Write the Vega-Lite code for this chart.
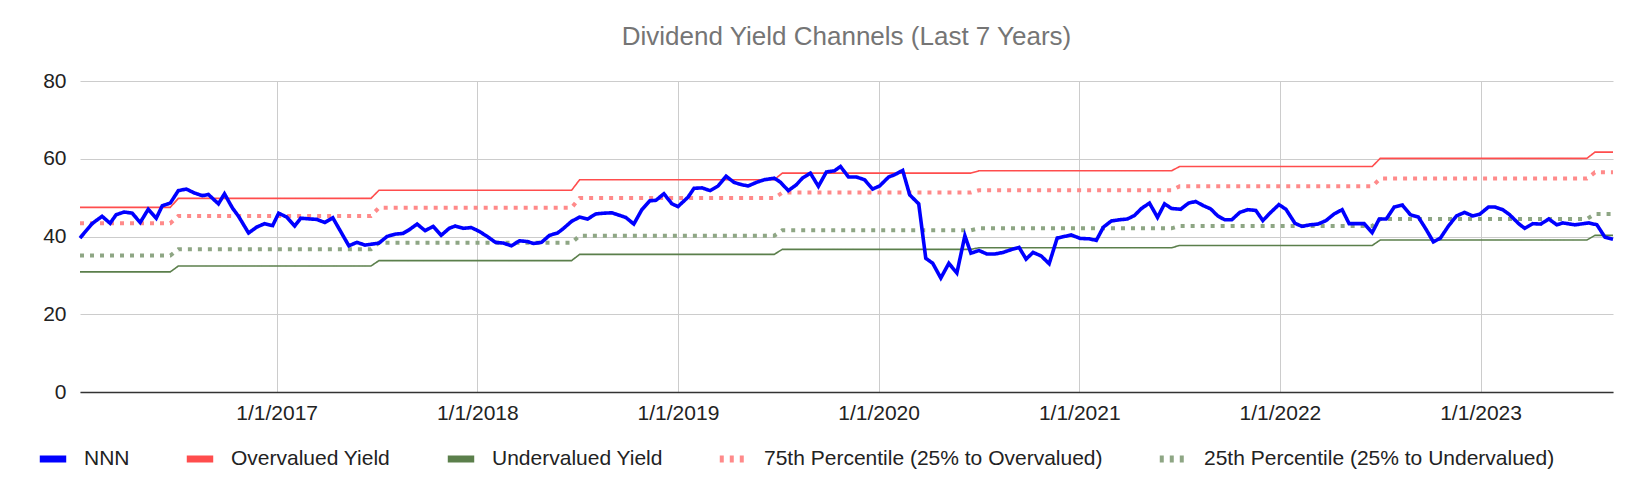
{
"$schema":"https://vega.github.io/schema/vega-lite/v6.json",
"width":1533,"height":311,"autosize":{"type":"none"},
"padding":{"left":80,"top":81,"right":23,"bottom":102},
"background":"white",
"config":{"view":{"stroke":null},"font":"Liberation Sans"},
"title":{"text":"Dividend Yield Channels (Last 7 Years)","fontSize":26,"fontWeight":"normal","color":"#757575","font":"Liberation Sans","offset":20,"anchor":"middle"},
"datasets":{
"steps":[
{"s":"Overvalued Yield","t":2016.02,"v":47.5},{"s":"Overvalued Yield","t":2016.47,"v":47.5},{"s":"Overvalued Yield","t":2016.51,"v":49.8},{"s":"Overvalued Yield","t":2017.47,"v":49.8},{"s":"Overvalued Yield","t":2017.51,"v":51.9},{"s":"Overvalued Yield","t":2018.47,"v":51.9},{"s":"Overvalued Yield","t":2018.51,"v":54.6},{"s":"Overvalued Yield","t":2019.48,"v":54.6},{"s":"Overvalued Yield","t":2019.52,"v":56.3},{"s":"Overvalued Yield","t":2020.46,"v":56.3},{"s":"Overvalued Yield","t":2020.50,"v":56.9},{"s":"Overvalued Yield","t":2021.46,"v":56.9},{"s":"Overvalued Yield","t":2021.50,"v":58.0},{"s":"Overvalued Yield","t":2022.46,"v":58.0},{"s":"Overvalued Yield","t":2022.50,"v":60.1},{"s":"Overvalued Yield","t":2023.53,"v":60.1},{"s":"Overvalued Yield","t":2023.57,"v":61.7},{"s":"Overvalued Yield","t":2023.66,"v":61.7},
{"s":"Undervalued Yield","t":2016.02,"v":30.9},{"s":"Undervalued Yield","t":2016.47,"v":30.9},{"s":"Undervalued Yield","t":2016.51,"v":32.4},{"s":"Undervalued Yield","t":2017.47,"v":32.4},{"s":"Undervalued Yield","t":2017.51,"v":33.8},{"s":"Undervalued Yield","t":2018.47,"v":33.8},{"s":"Undervalued Yield","t":2018.51,"v":35.4},{"s":"Undervalued Yield","t":2019.48,"v":35.4},{"s":"Undervalued Yield","t":2019.52,"v":36.7},{"s":"Undervalued Yield","t":2020.46,"v":36.7},{"s":"Undervalued Yield","t":2020.50,"v":37.1},{"s":"Undervalued Yield","t":2021.46,"v":37.1},{"s":"Undervalued Yield","t":2021.50,"v":37.7},{"s":"Undervalued Yield","t":2022.46,"v":37.7},{"s":"Undervalued Yield","t":2022.50,"v":39.1},{"s":"Undervalued Yield","t":2023.53,"v":39.1},{"s":"Undervalued Yield","t":2023.57,"v":40.3},{"s":"Undervalued Yield","t":2023.66,"v":40.3}
],
"dots":[
{"s":"75th Percentile (25% to Overvalued)","t":2016.02,"v":43.4},{"s":"75th Percentile (25% to Overvalued)","t":2016.47,"v":43.4},{"s":"75th Percentile (25% to Overvalued)","t":2016.51,"v":45.3},{"s":"75th Percentile (25% to Overvalued)","t":2017.47,"v":45.3},{"s":"75th Percentile (25% to Overvalued)","t":2017.51,"v":47.4},{"s":"75th Percentile (25% to Overvalued)","t":2018.47,"v":47.4},{"s":"75th Percentile (25% to Overvalued)","t":2018.51,"v":49.9},{"s":"75th Percentile (25% to Overvalued)","t":2019.48,"v":49.9},{"s":"75th Percentile (25% to Overvalued)","t":2019.52,"v":51.3},{"s":"75th Percentile (25% to Overvalued)","t":2020.46,"v":51.3},{"s":"75th Percentile (25% to Overvalued)","t":2020.50,"v":51.9},{"s":"75th Percentile (25% to Overvalued)","t":2021.46,"v":51.9},{"s":"75th Percentile (25% to Overvalued)","t":2021.50,"v":52.9},{"s":"75th Percentile (25% to Overvalued)","t":2022.46,"v":52.9},{"s":"75th Percentile (25% to Overvalued)","t":2022.50,"v":54.9},{"s":"75th Percentile (25% to Overvalued)","t":2023.53,"v":54.9},{"s":"75th Percentile (25% to Overvalued)","t":2023.57,"v":56.5},{"s":"75th Percentile (25% to Overvalued)","t":2023.66,"v":56.5},
{"s":"25th Percentile (25% to Undervalued)","t":2016.02,"v":35.1},{"s":"25th Percentile (25% to Undervalued)","t":2016.47,"v":35.1},{"s":"25th Percentile (25% to Undervalued)","t":2016.51,"v":36.7},{"s":"25th Percentile (25% to Undervalued)","t":2017.47,"v":36.7},{"s":"25th Percentile (25% to Undervalued)","t":2017.51,"v":38.4},{"s":"25th Percentile (25% to Undervalued)","t":2018.47,"v":38.4},{"s":"25th Percentile (25% to Undervalued)","t":2018.51,"v":40.2},{"s":"25th Percentile (25% to Undervalued)","t":2019.48,"v":40.2},{"s":"25th Percentile (25% to Undervalued)","t":2019.52,"v":41.6},{"s":"25th Percentile (25% to Undervalued)","t":2020.46,"v":41.6},{"s":"25th Percentile (25% to Undervalued)","t":2020.50,"v":42.1},{"s":"25th Percentile (25% to Undervalued)","t":2021.46,"v":42.1},{"s":"25th Percentile (25% to Undervalued)","t":2021.50,"v":42.7},{"s":"25th Percentile (25% to Undervalued)","t":2022.46,"v":42.7},{"s":"25th Percentile (25% to Undervalued)","t":2022.50,"v":44.5},{"s":"25th Percentile (25% to Undervalued)","t":2023.53,"v":44.5},{"s":"25th Percentile (25% to Undervalued)","t":2023.57,"v":45.8},{"s":"25th Percentile (25% to Undervalued)","t":2023.66,"v":45.8}
],
"nnn":[
{"s":"NNN","t":2016.02,"v":39.6},{"s":"NNN","t":2016.08,"v":43.3},{"s":"NNN","t":2016.13,"v":45.2},{"s":"NNN","t":2016.17,"v":43.4},{"s":"NNN","t":2016.20,"v":45.6},{"s":"NNN","t":2016.24,"v":46.3},{"s":"NNN","t":2016.28,"v":46.0},{"s":"NNN","t":2016.32,"v":43.6},{"s":"NNN","t":2016.36,"v":47.0},{"s":"NNN","t":2016.40,"v":44.7},{"s":"NNN","t":2016.43,"v":47.9},{"s":"NNN","t":2016.47,"v":48.6},{"s":"NNN","t":2016.51,"v":51.8},{"s":"NNN","t":2016.55,"v":52.2},{"s":"NNN","t":2016.59,"v":51.2},{"s":"NNN","t":2016.63,"v":50.5},{"s":"NNN","t":2016.66,"v":50.8},{"s":"NNN","t":2016.71,"v":48.4},{"s":"NNN","t":2016.74,"v":51.0},{"s":"NNN","t":2016.78,"v":47.3},{"s":"NNN","t":2016.81,"v":45.2},{"s":"NNN","t":2016.86,"v":40.9},{"s":"NNN","t":2016.90,"v":42.4},{"s":"NNN","t":2016.94,"v":43.3},{"s":"NNN","t":2016.98,"v":42.8},{"s":"NNN","t":2017.01,"v":46.0},{"s":"NNN","t":2017.05,"v":45.0},{"s":"NNN","t":2017.09,"v":42.7},{"s":"NNN","t":2017.12,"v":44.7},{"s":"NNN","t":2017.17,"v":44.5},{"s":"NNN","t":2017.20,"v":44.4},{"s":"NNN","t":2017.24,"v":43.6},{"s":"NNN","t":2017.28,"v":44.8},{"s":"NNN","t":2017.31,"v":42.1},{"s":"NNN","t":2017.36,"v":37.6},{"s":"NNN","t":2017.40,"v":38.5},{"s":"NNN","t":2017.44,"v":37.8},{"s":"NNN","t":2017.47,"v":38.0},{"s":"NNN","t":2017.51,"v":38.3},{"s":"NNN","t":2017.55,"v":40.0},{"s":"NNN","t":2017.59,"v":40.6},{"s":"NNN","t":2017.63,"v":40.8},{"s":"NNN","t":2017.66,"v":41.7},{"s":"NNN","t":2017.70,"v":43.2},{"s":"NNN","t":2017.74,"v":41.5},{"s":"NNN","t":2017.78,"v":42.6},{"s":"NNN","t":2017.82,"v":40.3},{"s":"NNN","t":2017.86,"v":42.1},{"s":"NNN","t":2017.89,"v":42.7},{"s":"NNN","t":2017.93,"v":42.1},{"s":"NNN","t":2017.97,"v":42.3},{"s":"NNN","t":2018.01,"v":41.3},{"s":"NNN","t":2018.05,"v":40.0},{"s":"NNN","t":2018.09,"v":38.5},{"s":"NNN","t":2018.13,"v":38.3},{"s":"NNN","t":2018.17,"v":37.6},{"s":"NNN","t":2018.21,"v":38.9},{"s":"NNN","t":2018.25,"v":38.7},{"s":"NNN","t":2018.28,"v":38.2},{"s":"NNN","t":2018.32,"v":38.5},{"s":"NNN","t":2018.36,"v":40.3},{"s":"NNN","t":2018.40,"v":40.9},{"s":"NNN","t":2018.43,"v":42.1},{"s":"NNN","t":2018.47,"v":43.9},{"s":"NNN","t":2018.51,"v":45.0},{"s":"NNN","t":2018.55,"v":44.5},{"s":"NNN","t":2018.59,"v":45.8},{"s":"NNN","t":2018.63,"v":46.0},{"s":"NNN","t":2018.67,"v":46.1},{"s":"NNN","t":2018.70,"v":45.6},{"s":"NNN","t":2018.74,"v":44.9},{"s":"NNN","t":2018.78,"v":43.2},{"s":"NNN","t":2018.82,"v":46.9},{"s":"NNN","t":2018.86,"v":49.2},{"s":"NNN","t":2018.89,"v":49.3},{"s":"NNN","t":2018.93,"v":51.0},{"s":"NNN","t":2018.97,"v":48.4},{"s":"NNN","t":2019.00,"v":47.7},{"s":"NNN","t":2019.05,"v":50.1},{"s":"NNN","t":2019.08,"v":52.4},{"s":"NNN","t":2019.12,"v":52.5},{"s":"NNN","t":2019.16,"v":51.8},{"s":"NNN","t":2019.20,"v":53.0},{"s":"NNN","t":2019.24,"v":55.5},{"s":"NNN","t":2019.28,"v":53.9},{"s":"NNN","t":2019.32,"v":53.3},{"s":"NNN","t":2019.35,"v":53.0},{"s":"NNN","t":2019.39,"v":53.9},{"s":"NNN","t":2019.43,"v":54.6},{"s":"NNN","t":2019.48,"v":55.0},{"s":"NNN","t":2019.51,"v":54.0},{"s":"NNN","t":2019.55,"v":51.8},{"s":"NNN","t":2019.59,"v":53.3},{"s":"NNN","t":2019.62,"v":55.0},{"s":"NNN","t":2019.66,"v":56.3},{"s":"NNN","t":2019.70,"v":52.9},{"s":"NNN","t":2019.74,"v":56.6},{"s":"NNN","t":2019.78,"v":56.9},{"s":"NNN","t":2019.81,"v":58.0},{"s":"NNN","t":2019.85,"v":55.3},{"s":"NNN","t":2019.89,"v":55.3},{"s":"NNN","t":2019.93,"v":54.6},{"s":"NNN","t":2019.97,"v":52.2},{"s":"NNN","t":2020.005,"v":53.0},{"s":"NNN","t":2020.05,"v":55.3},{"s":"NNN","t":2020.08,"v":55.9},{"s":"NNN","t":2020.12,"v":57.0},{"s":"NNN","t":2020.155,"v":50.7},{"s":"NNN","t":2020.20,"v":48.4},{"s":"NNN","t":2020.235,"v":34.4},{"s":"NNN","t":2020.27,"v":33.1},{"s":"NNN","t":2020.31,"v":29.3},{"s":"NNN","t":2020.35,"v":33.1},{"s":"NNN","t":2020.39,"v":30.6},{"s":"NNN","t":2020.43,"v":40.2},{"s":"NNN","t":2020.46,"v":35.7},{"s":"NNN","t":2020.50,"v":36.4},{"s":"NNN","t":2020.54,"v":35.5},{"s":"NNN","t":2020.58,"v":35.5},{"s":"NNN","t":2020.62,"v":35.9},{"s":"NNN","t":2020.66,"v":36.6},{"s":"NNN","t":2020.70,"v":37.2},{"s":"NNN","t":2020.735,"v":34.2},{"s":"NNN","t":2020.77,"v":35.9},{"s":"NNN","t":2020.81,"v":35.0},{"s":"NNN","t":2020.85,"v":33.0},{"s":"NNN","t":2020.89,"v":39.6},{"s":"NNN","t":2020.925,"v":40.0},{"s":"NNN","t":2020.96,"v":40.4},{"s":"NNN","t":2021.005,"v":39.5},{"s":"NNN","t":2021.05,"v":39.4},{"s":"NNN","t":2021.085,"v":39.0},{"s":"NNN","t":2021.12,"v":42.4},{"s":"NNN","t":2021.16,"v":44.0},{"s":"NNN","t":2021.20,"v":44.3},{"s":"NNN","t":2021.24,"v":44.5},{"s":"NNN","t":2021.275,"v":45.4},{"s":"NNN","t":2021.31,"v":47.2},{"s":"NNN","t":2021.35,"v":48.6},{"s":"NNN","t":2021.39,"v":44.9},{"s":"NNN","t":2021.425,"v":48.4},{"s":"NNN","t":2021.46,"v":47.2},{"s":"NNN","t":2021.505,"v":47.0},{"s":"NNN","t":2021.545,"v":48.6},{"s":"NNN","t":2021.58,"v":49.0},{"s":"NNN","t":2021.62,"v":47.9},{"s":"NNN","t":2021.655,"v":47.1},{"s":"NNN","t":2021.69,"v":45.3},{"s":"NNN","t":2021.725,"v":44.3},{"s":"NNN","t":2021.76,"v":44.3},{"s":"NNN","t":2021.80,"v":46.2},{"s":"NNN","t":2021.84,"v":46.9},{"s":"NNN","t":2021.88,"v":46.7},{"s":"NNN","t":2021.915,"v":44.1},{"s":"NNN","t":2021.95,"v":46.0},{"s":"NNN","t":2021.995,"v":48.2},{"s":"NNN","t":2022.03,"v":47.0},{"s":"NNN","t":2022.075,"v":43.4},{"s":"NNN","t":2022.11,"v":42.6},{"s":"NNN","t":2022.15,"v":43.0},{"s":"NNN","t":2022.19,"v":43.2},{"s":"NNN","t":2022.23,"v":44.1},{"s":"NNN","t":2022.27,"v":45.8},{"s":"NNN","t":2022.31,"v":46.9},{"s":"NNN","t":2022.345,"v":43.3},{"s":"NNN","t":2022.38,"v":43.3},{"s":"NNN","t":2022.42,"v":43.3},{"s":"NNN","t":2022.46,"v":41.0},{"s":"NNN","t":2022.495,"v":44.5},{"s":"NNN","t":2022.53,"v":44.5},{"s":"NNN","t":2022.57,"v":47.6},{"s":"NNN","t":2022.61,"v":48.1},{"s":"NNN","t":2022.65,"v":45.6},{"s":"NNN","t":2022.69,"v":45.0},{"s":"NNN","t":2022.73,"v":41.7},{"s":"NNN","t":2022.765,"v":38.6},{"s":"NNN","t":2022.80,"v":39.6},{"s":"NNN","t":2022.84,"v":42.7},{"s":"NNN","t":2022.88,"v":45.3},{"s":"NNN","t":2022.92,"v":46.2},{"s":"NNN","t":2022.96,"v":45.3},{"s":"NNN","t":2022.995,"v":45.7},{"s":"NNN","t":2023.04,"v":47.6},{"s":"NNN","t":2023.07,"v":47.6},{"s":"NNN","t":2023.11,"v":46.9},{"s":"NNN","t":2023.145,"v":45.6},{"s":"NNN","t":2023.19,"v":43.3},{"s":"NNN","t":2023.22,"v":42.1},{"s":"NNN","t":2023.26,"v":43.3},{"s":"NNN","t":2023.30,"v":43.2},{"s":"NNN","t":2023.34,"v":44.5},{"s":"NNN","t":2023.38,"v":43.0},{"s":"NNN","t":2023.41,"v":43.5},{"s":"NNN","t":2023.47,"v":43.0},{"s":"NNN","t":2023.54,"v":43.5},{"s":"NNN","t":2023.58,"v":43.0},{"s":"NNN","t":2023.62,"v":39.8},{"s":"NNN","t":2023.66,"v":39.3}
]},
"encoding":{
"x":{"field":"t","type":"quantitative","scale":{"domain":[2016.02,2023.66],"nice":false,"zero":false},
 "axis":{"title":null,"values":[2017,2018,2019,2020,2021,2022,2023],"labelExpr":"'1/1/' + datum.value","labelFont":"Liberation Sans","labelFontSize":21,"labelColor":"#222","labelPadding":10,"ticks":false,"domain":true,"domainColor":"#333","domainWidth":1.5,"gridColor":"#cccccc","labelFlush":false}},
"y":{"field":"v","type":"quantitative","scale":{"domain":[0,80],"nice":false},
 "axis":{"title":null,"values":[0,20,40,60,80],"labelFont":"Liberation Sans","labelFontSize":21,"labelColor":"#222","labelPadding":14,"ticks":false,"domain":false,"gridColor":"#cccccc"}},
"color":{"field":"s","type":"nominal","scale":{"domain":["NNN","Overvalued Yield","Undervalued Yield","75th Percentile (25% to Overvalued)","25th Percentile (25% to Undervalued)"],"range":["#0000ff","#ff4d4d","#5b7f4b","#ff8a8a","#8ea684"]},
 "legend":{"title":null,"orient":"none","legendX":-44,"legendY":361,"direction":"horizontal","labelFont":"Liberation Sans","labelFontSize":21,"labelColor":"#222","labelLimit":0,"symbolType":"stroke","symbolSize":700,"symbolStrokeWidth":7,"columnPadding":42,"labelOffset":14}},
"strokeDash":{"field":"s","type":"nominal","scale":{"domain":["NNN","Overvalued Yield","Undervalued Yield","75th Percentile (25% to Overvalued)","25th Percentile (25% to Undervalued)"],"range":[[1,0],[1,0],[1,0],[4,6],[4,6]]},"legend":null}
},
"layer":[
{"data":{"name":"steps"},"mark":{"type":"line","strokeWidth":1.6}},
{"data":{"name":"dots"},"mark":{"type":"line","strokeWidth":4}},
{"data":{"name":"nnn"},"mark":{"type":"line","strokeWidth":3.6}}
]
}
